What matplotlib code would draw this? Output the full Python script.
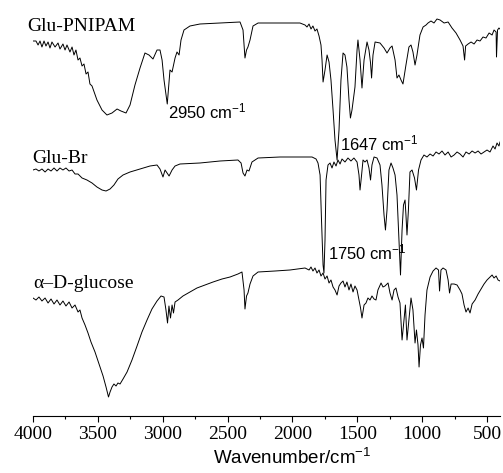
import matplotlib
matplotlib.use("Agg")
import matplotlib.pyplot as plt
from matplotlib.ticker import MultipleLocator

# FTIR spectra, wavenumber (cm-1) and offset transmittance (a.u.)
pnipam_wn = [4000, 3977, 3961, 3946, 3931, 3915, 3900, 3884, 3869, 3854, 3830, 3807, 3792, 3769,
             3753, 3738, 3715, 3699, 3684, 3669, 3653, 3638, 3622, 3607, 3591, 3576, 3561, 3545,
             3507, 3468, 3430, 3391, 3352, 3322, 3283, 3252, 3214, 3175, 3137, 3106, 3075, 3044,
             3021, 3005, 2990, 2965, 2944, 2928, 2905, 2890, 2874, 2859, 2836, 2790, 2713, 2558,
             2404, 2381, 2366, 2354, 2343, 2327, 2304, 2265, 2096, 1942, 1903, 1888, 1872, 1857,
             1842, 1826, 1811, 1795, 1780, 1772, 1764, 1749, 1733, 1718, 1703, 1687, 1672, 1656,
             1641, 1626, 1610, 1595, 1580, 1564, 1553, 1541, 1518, 1502, 1495, 1479, 1464, 1448,
             1425, 1410, 1398, 1390, 1379, 1363, 1325, 1294, 1271, 1248, 1232, 1209, 1194, 1179,
             1163, 1148, 1125, 1102, 1086, 1071, 1055, 1040, 1017, 993, 970, 955, 932, 909, 886,
             862, 831, 800, 770, 739, 708, 685, 673, 665, 646, 623, 600, 577, 554, 531, 508, 484,
             461, 446, 430, 427, 419, 408, 400]
pnipam_t = [375, 375, 371, 375, 369, 375, 370, 374, 368, 374, 369, 373, 367, 372,
            366, 371, 364, 369, 361, 366, 356, 358, 350, 352, 342, 344, 332, 330,
            316, 306, 301, 303, 307, 305, 303, 311, 331, 348, 363, 361, 357, 366,
            366, 356, 336, 312, 346, 344, 358, 364, 361, 376, 386, 390, 392, 393,
            394, 386, 358, 366, 369, 376, 390, 393, 393, 393, 391, 389, 392, 387,
            390, 385, 387, 380, 371, 356, 334, 346, 361, 354, 336, 306, 276, 256,
            286, 336, 363, 361, 349, 316, 298, 306, 329, 366, 376, 356, 328, 356,
            374, 366, 353, 338, 361, 374, 373, 368, 363, 368, 370, 356, 338, 341,
            336, 332, 351, 369, 371, 364, 351, 361, 381, 389, 391, 393, 395, 393, 397,
            396, 393, 394, 388, 383, 376, 370, 356, 370, 372, 374, 372, 376, 375, 379, 378, 383,
            381, 386, 384, 359, 386, 388, 387]

glubr_wn = [4000, 3977, 3954, 3931, 3907, 3884, 3861, 3838, 3815, 3792, 3769, 3746, 3722, 3699,
            3676, 3653, 3622, 3584, 3545, 3507, 3468, 3437, 3406, 3376, 3345, 3306, 3252, 3175,
            3098, 3044, 3021, 2998, 2982, 2967, 2951, 2928, 2905, 2867, 2713, 2558, 2420, 2396,
            2381, 2366, 2350, 2335, 2312, 2265, 2096, 1942, 1849, 1818, 1803, 1787, 1776, 1764,
            1757, 1749, 1741, 1726, 1710, 1695, 1680, 1664, 1649, 1633, 1618, 1595, 1572, 1549,
            1526, 1502, 1487, 1479, 1467, 1456, 1441, 1425, 1410, 1398, 1387, 1371, 1348, 1325,
            1310, 1294, 1283, 1271, 1256, 1240, 1225, 1209, 1194, 1179, 1167, 1155, 1144, 1132,
            1125, 1117, 1106, 1094, 1078, 1059, 1044, 1028, 1009, 986, 963, 939, 916, 893, 870,
            847, 824, 800, 777, 754, 731, 708, 685, 662, 638, 615, 592, 569, 546, 523, 500, 477,
            454, 438, 423, 408, 400]
glubr_t = [246, 247, 245, 247, 244, 247, 245, 248, 245, 248, 246, 248, 245, 246,
           242, 242, 238, 236, 233, 229, 226, 225, 227, 231, 237, 241, 244, 247,
           250, 251, 247, 239, 246, 243, 240, 246, 250, 252, 253, 255, 256, 253,
           243, 240, 246, 245, 254, 258, 259, 259, 259, 257, 253, 241, 196, 151,
           143, 176, 236, 251, 253, 248, 254, 250, 256, 252, 257, 254, 258, 255,
           258, 254, 241, 226, 241, 256, 254, 256, 248, 236, 251, 259, 258, 251,
           231, 201, 186, 206, 246, 253, 248, 241, 221, 176, 141, 186, 211, 216,
           201, 181, 206, 244, 246, 238, 226, 246, 256, 261, 259, 262, 260, 264, 262,
           265, 261, 264, 259, 261, 264, 262, 259, 264, 262, 265, 263, 265, 262, 264, 266, 264,
           270, 267, 273, 270, 274]

glucose_wn = [4000, 3977, 3954, 3931, 3907, 3884, 3861, 3838, 3815, 3792, 3769, 3746, 3722, 3699,
              3676, 3653, 3638, 3622, 3599, 3576, 3553, 3522, 3491, 3460, 3437, 3418, 3406, 3391,
              3376, 3360, 3345, 3329, 3306, 3275, 3237, 3198, 3160, 3121, 3083, 3044, 3013, 2990,
              2975, 2963, 2952, 2940, 2928, 2917, 2905, 2882, 2844, 2790, 2736, 2674, 2612, 2543,
              2481, 2420, 2389, 2373, 2366, 2354, 2343, 2327, 2304, 2265, 2134, 2019, 1903, 1872,
              1857, 1842, 1826, 1811, 1795, 1780, 1764, 1749, 1733, 1718, 1703, 1687, 1672, 1656,
              1641, 1626, 1610, 1595, 1580, 1564, 1549, 1533, 1518, 1502, 1487, 1475, 1464, 1448,
              1433, 1418, 1402, 1387, 1371, 1356, 1341, 1317, 1302, 1287, 1263, 1248, 1232, 1217,
              1202, 1186, 1171, 1155, 1140, 1129, 1117, 1102, 1086, 1071, 1055, 1044, 1032, 1024,
              1013, 1001, 990, 978, 963, 939, 916, 893, 874, 866, 855, 839, 816, 800, 789, 777,
              754, 731, 708, 693, 677, 662, 646, 631, 615, 592, 569, 546, 523, 500, 477, 461,
              446, 430, 415, 400]
glucose_t = [118, 116, 119, 115, 118, 113, 117, 112, 116, 111, 115, 110, 114, 108,
             111, 104, 106, 98, 91, 83, 74, 64, 52, 40, 29, 19, 24, 29,
             32, 30, 33, 32, 37, 44, 56, 70, 84, 96, 107, 115, 120, 119,
             106, 93, 110, 98, 111, 103, 114, 116, 120, 124, 128, 131, 134, 137,
             139, 142, 144, 126, 107, 120, 123, 132, 140, 144, 145, 146, 148, 146,
             149, 145, 148, 143, 146, 140, 143, 137, 140, 133, 136, 129, 126, 121,
             130, 133, 135, 129, 134, 126, 132, 124, 130, 126, 116, 108, 98, 111,
             113, 118, 116, 120, 117, 116, 126, 133, 129, 130, 133, 123, 116, 126,
             128, 119, 113, 76, 96, 111, 76, 96, 118, 106, 73, 86, 71, 49,
             71, 78, 68, 101, 126, 139, 145, 148, 146, 125, 146, 148, 146, 136, 123, 132,
             132, 131, 126, 122, 111, 104, 108, 103, 112, 116, 122, 127, 132, 136, 139, 141,
             138, 140, 136, 135]

spectra = [
    ("Glu-PNIPAM", pnipam_wn, pnipam_t, (4046, 385)),
    ("Glu-Br", glubr_wn, glubr_t, (4008, 253)),
    ("\u03b1\u2013D-glucose", glucose_wn, glucose_t, (4000, 128)),
]

peak_labels = [
    ("2950", 2960, 298),
    ("1647", 1633, 266),
    ("1750", 1726, 157),
]

plt.rcParams["mathtext.fontset"] = "custom"
plt.rcParams["mathtext.rm"] = "Liberation Sans"
plt.rcParams["mathtext.it"] = "Liberation Sans:italic"

fig = plt.figure(figsize=(5.03, 4.73), dpi=100)
ax = fig.add_axes([33 / 503, 57 / 473, 467 / 503, 411 / 473])

for name, wn, t, (lx, ly) in spectra:
    ax.plot(wn, t, color="black", lw=0.7)
    ax.text(lx, ly, name, family="Liberation Serif", fontsize=14, ha="left", va="baseline")

for wn, x, y in peak_labels:
    ax.text(x, y, wn + r" cm$^{-1}$", family="Liberation Sans", fontsize=12,
            ha="left", va="baseline")

ax.set_xlim(4000, 400)
ax.set_ylim(0, 411)
for side in ["left", "right", "top"]:
    ax.spines[side].set_visible(False)
ax.spines["bottom"].set_linewidth(0.8)
ax.set_yticks([])
ax.xaxis.set_major_locator(MultipleLocator(500))
ax.xaxis.set_minor_locator(MultipleLocator(250))
ax.tick_params(axis="x", which="major", direction="out", length=4, width=0.8, pad=3)
ax.tick_params(axis="x", which="minor", direction="out", length=2, width=0.8)
for lab in ax.get_xticklabels():
    lab.set_family("Liberation Serif")
    lab.set_fontsize(14)

ax.set_xlabel(r"Wavenumber/cm$^{-1}$", family="Liberation Sans", fontsize=13.5)
ax.xaxis.set_label_coords(0.555, -0.078)

fig.savefig("out.png", dpi=100)
